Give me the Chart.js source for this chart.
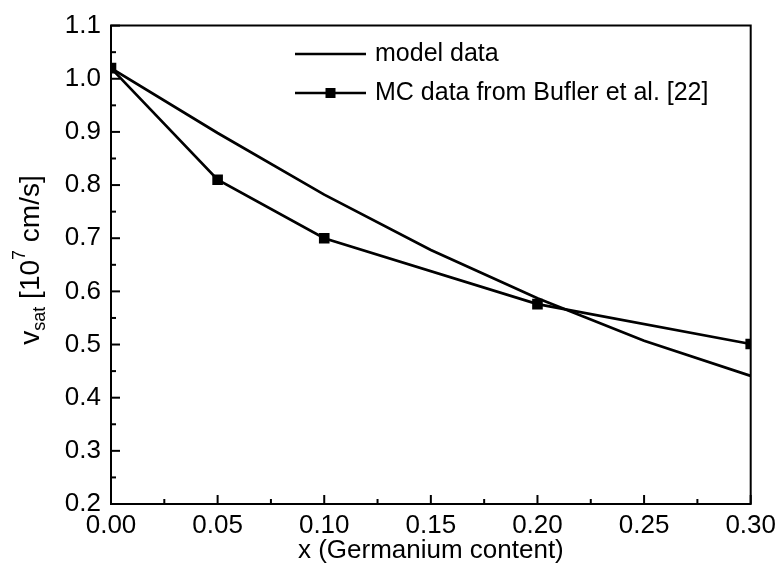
<!DOCTYPE html>
<html>
<head>
<meta charset="utf-8">
<script src="https://cdn.jsdelivr.net/npm/chart.js@4.4.0/dist/chart.umd.min.js"></script>
<style>
  html, body { margin: 0; padding: 0; background: #fff; }
  #wrap { width: 782px; height: 569px; }
</style>
</head>
<body>
<div id="wrap"><canvas id="c" width="782" height="569"></canvas></div>
<script>
// ---- data ----
const modelX = [0.00, 0.05, 0.10, 0.15, 0.20, 0.25, 0.30];
const modelY = [1.02, 0.898, 0.782, 0.678, 0.587, 0.507, 0.441];
const mcX = [0.00, 0.05, 0.10, 0.20, 0.30];
const mcY = [1.02, 0.81, 0.70, 0.576, 0.501];
const seriesLabels = ["model data", "MC data from Bufler et al. [22]"];
const xTitle = "x (Germanium content)";
const yTitleParts = ["v", "sat", " [10", "7", " cm/s]"];

const FONT = "'Liberation Sans', Arial, Helvetica, sans-serif";

const framePlugin = {
  id: 'frame',
  afterDatasetsDraw(chart) {
    const ctx = chart.ctx;
    const a = chart.chartArea;
    const xs = chart.scales.x, ys = chart.scales.y;
    ctx.save();
    ctx.strokeStyle = '#000';
    ctx.lineWidth = 2;
    ctx.beginPath();
    ctx.rect(a.left, a.top, a.right - a.left, a.bottom - a.top);
    ctx.stroke();
    // y ticks (inward)
    for (let v = 0.2; v <= 1.1001; v += 0.05) {
      const y = ys.getPixelForValue(v);
      const major = Math.abs(Math.round(v * 10) - v * 10) < 1e-6;
      ctx.beginPath();
      ctx.moveTo(a.left, y);
      ctx.lineTo(a.left + (major ? 9 : 5), y);
      ctx.stroke();
    }
    for (let v = 0; v <= 0.3001; v += 0.025) {
      const x = xs.getPixelForValue(v);
      const major = Math.abs(Math.round(v * 20) - v * 20) < 1e-6;
      ctx.beginPath();
      ctx.moveTo(x, a.bottom);
      ctx.lineTo(x, a.bottom - (major ? 9 : 5));
      ctx.stroke();
    }
    // x title
    ctx.fillStyle = '#000';
    ctx.font = '26px ' + FONT;
    ctx.textAlign = 'center';
    ctx.textBaseline = 'middle';
    ctx.fillText(xTitle, (a.left + a.right) / 2, 551);

    // y title (rotated, with sub/superscript)
    const big = '28px ' + FONT, small = '18px ' + FONT;
    const parts = [
      { t: yTitleParts[0], f: big, dy: 0 },
      { t: yTitleParts[1], f: small, dy: 9 },
      { t: yTitleParts[2], f: big, dy: 0 },
      { t: yTitleParts[3], f: small, dy: -11 },
      { t: yTitleParts[4], f: big, dy: 0 }
    ];
    let total = 0;
    parts.forEach(p => { ctx.font = p.f; p.w = ctx.measureText(p.t).width; total += p.w; });
    ctx.translate(31, 260);
    ctx.rotate(-Math.PI / 2);
    ctx.textAlign = 'left';
    ctx.textBaseline = 'middle';
    let cx = -total / 2;
    parts.forEach(p => { ctx.font = p.f; ctx.fillText(p.t, cx, p.dy); cx += p.w; });
    ctx.restore();

    // legend
    ctx.save();
    ctx.strokeStyle = '#000';
    ctx.fillStyle = '#000';
    ctx.lineWidth = 2.7;
    const lx0 = 295, lx1 = 366, ly1 = 54, ly2 = 93;
    ctx.beginPath(); ctx.moveTo(lx0, ly1); ctx.lineTo(lx1, ly1); ctx.stroke();
    ctx.beginPath(); ctx.moveTo(lx0, ly2); ctx.lineTo(lx1, ly2); ctx.stroke();
    ctx.fillRect((lx0 + lx1) / 2 - 5, ly2 - 5, 10, 10);
    ctx.font = '25px ' + FONT;
    ctx.textAlign = 'left';
    ctx.textBaseline = 'middle';
    ctx.fillText(seriesLabels[0], 375, ly1);
    ctx.fillText(seriesLabels[1], 375, ly2);
    ctx.restore();
  }
};

new Chart(document.getElementById('c'), {
  type: 'line',
  data: {
    datasets: [
      {
        label: seriesLabels[0],
        data: modelX.map((x, i) => ({ x, y: modelY[i] })),
        borderColor: '#000',
        borderWidth: 2.7,
        pointRadius: 0,
        tension: 0,
        fill: false,
        clip: 0
      },
      {
        label: seriesLabels[1],
        data: mcX.map((x, i) => ({ x, y: mcY[i] })),
        borderColor: '#000',
        backgroundColor: '#000',
        borderWidth: 2.7,
        pointStyle: 'rect',
        pointRadius: 7.5,
        pointBorderWidth: 0,
        pointBackgroundColor: '#000',
        tension: 0,
        fill: false,
        clip: 0
      }
    ]
  },
  options: {
    responsive: false,
    animation: false,
    events: [],
    layout: { padding: { top: 18, right: 30, left: 0, bottom: 0 } },
    plugins: { legend: { display: false }, tooltip: { enabled: false } },
    scales: {
      x: {
        type: 'linear',
        min: 0, max: 0.3,
        grid: { display: false, drawTicks: false },
        border: { display: false },
        afterFit: s => { s.height = 65; },
        ticks: {
          stepSize: 0.05,
          color: '#000',
          padding: 6,
          maxRotation: 0,
          autoSkip: false,
          font: { family: FONT, size: 26 },
          callback: v => Number(v).toFixed(2)
        }
      },
      y: {
        min: 0.2, max: 1.1,
        grid: { display: false, drawTicks: false },
        border: { display: false },
        afterFit: s => { s.width = 111; },
        ticks: {
          stepSize: 0.1,
          color: '#000',
          padding: 10,
          autoSkip: false,
          font: { family: FONT, size: 26 },
          callback: v => Number(v).toFixed(1)
        }
      }
    }
  },
  plugins: [framePlugin]
});
</script>
</body>
</html>
